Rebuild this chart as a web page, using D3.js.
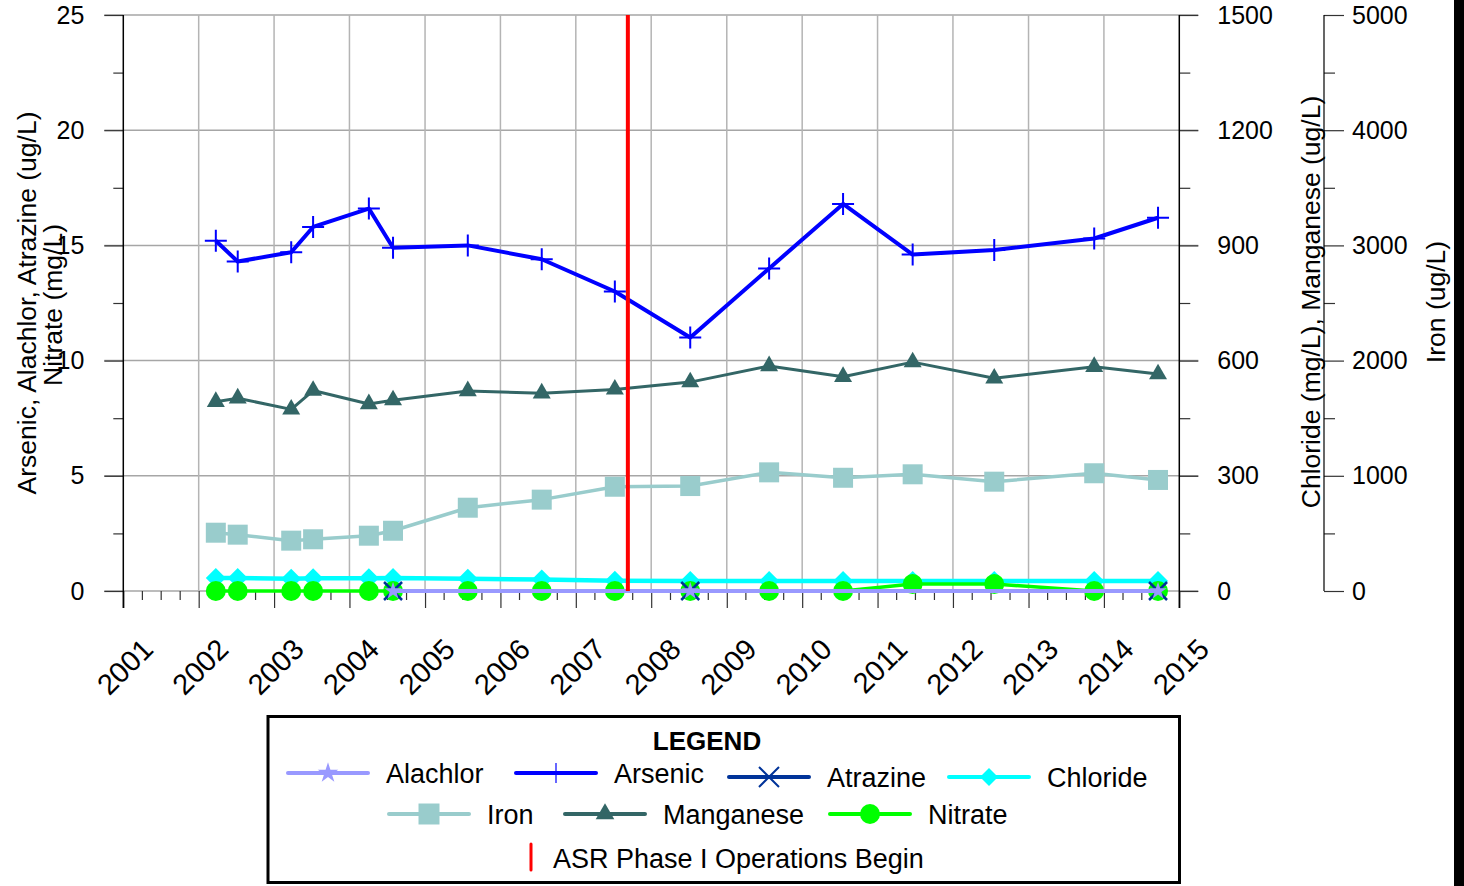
<!DOCTYPE html>
<html>
<head>
<meta charset="utf-8">
<script src="https://cdn.jsdelivr.net/npm/d3@7"></script>
<style>
  body { margin: 0; background: #fff; }
  text { font-family: "Liberation Sans", Arial, sans-serif; fill: #000; }
</style>
</head>
<body>
<svg id="chart" width="1464" height="886"></svg>
<script>
// sample dates
var sampleDates = ["2002-03-25", "2002-07-09", "2003-03-25", "2003-07-09", "2004-04-04",
                   "2004-07-30", "2005-07-27", "2006-07-20", "2007-07-09", "2008-07-08",
                   "2009-07-25", "2010-07-18", "2011-06-20", "2012-07-19", "2013-11-15",
                   "2014-09-20"];
var arsenic   = [15.2, 14.3, 14.7, 15.8, 16.6, 14.9, 15.0, 14.4, 13.0, 11.0, 14.0, 16.8, 14.6, 14.8, 15.3, 16.2];
var chloride  = [34, 34, 32, 33, 33, 34, 32, 30, 27, 26, 26, 26, 26, 26, 26, 26];
var iron      = [506, 489, 437, 449, 480, 523, 723, 793, 905, 911, 1030, 983, 1013, 949, 1022, 964];
var manganese = [493, 502, 473, 522, 487, 497, 521, 515, 525, 544, 586, 558, 596, 554, 584, 565];
var nitrate   = [0, 0, 0, 0, 0, 0, 0, 0, 0, 0, 0, 0, 0.3, 0.3, 0, 0];

var pesticideDates = ["2004-07-30", "2008-07-08", "2014-09-20"];
var alachlor = [0, 0, 0];
var atrazine = [0, 0, 0];

var asrStart = "2007-09-10";

var yearTicks  = d3.range(2001, 2016);
var leftTicks  = [0, 5, 10, 15, 20, 25];
var rightTicks = [0, 300, 600, 900, 1200, 1500];
var ironTicks  = [0, 1000, 2000, 3000, 4000, 5000];

var parse = d3.timeParse("%Y-%m-%d");
var svg = d3.select("#chart");

var x = d3.scaleTime()
    .domain([new Date(2001, 0, 1), new Date(2015, 0, 1)])
    .range([123.3, 1179.3]);
var yLeft  = d3.scaleLinear().domain([0, 25]).range([591, 15]);
var yRight = d3.scaleLinear().domain([0, 1500]).range([591, 15]);
var yIron  = d3.scaleLinear().domain([0, 5000]).range([591, 15]);

var x0 = x.range()[0], x1 = x.range()[1];
var fmt = d3.format("d");

// grid
var grid = svg.append("g");
grid.selectAll(".h").data(leftTicks).join("line")
    .attr("x1", x0 - 19).attr("x2", x1 + 19)
    .attr("y1", d => yLeft(d)).attr("y2", d => yLeft(d))
    .attr("stroke", "#a6a6a6").attr("stroke-width", 1.5);
grid.selectAll(".v").data(yearTicks.slice(1, -1)).join("line")
    .attr("x1", d => x(new Date(d, 0, 1))).attr("x2", d => x(new Date(d, 0, 1)))
    .attr("y1", 15).attr("y2", 591)
    .attr("stroke", "#b4b4b4").attr("stroke-width", 1.5);

// axes
function styleAxis(g) {
  g.select(".domain").remove();
  g.selectAll(".tick line").attr("stroke", "#333").attr("stroke-width", 1.2);
  g.selectAll("text").attr("font-size", 25).attr("fill", "#000");
}

svg.append("g").attr("transform", "translate(" + x0 + ",0)")
    .call(d3.axisLeft(yLeft).tickValues(leftTicks).tickSize(19).tickPadding(20).tickFormat(fmt))
    .call(styleAxis);
svg.append("g").attr("transform", "translate(" + x0 + ",0)")
    .call(d3.axisLeft(yLeft).tickValues(d3.range(2.5, 25, 5)).tickSize(10).tickFormat(""))
    .call(styleAxis);

svg.append("g").attr("transform", "translate(" + x1 + ",0)")
    .call(d3.axisRight(yRight).tickValues(rightTicks).tickSize(19).tickPadding(19).tickFormat(fmt))
    .call(styleAxis);
svg.append("g").attr("transform", "translate(" + x1 + ",0)")
    .call(d3.axisRight(yRight).tickValues(d3.range(150, 1500, 300)).tickSize(11).tickFormat(""))
    .call(styleAxis);

var xIron = 1324;
svg.append("g").attr("transform", "translate(" + xIron + ",0)")
    .call(d3.axisRight(yIron).tickValues(ironTicks).tickSize(20).tickPadding(8).tickFormat(fmt))
    .call(styleAxis);
svg.append("g").attr("transform", "translate(" + xIron + ",0)")
    .call(d3.axisRight(yIron).tickValues(d3.range(500, 5000, 1000)).tickSize(11).tickFormat(""))
    .call(styleAxis);

// x axis
var xAxisG = svg.append("g").attr("transform", "translate(0,591)")
    .call(d3.axisBottom(x).tickValues(yearTicks.map(d => new Date(d, 0, 1)))
      .tickSize(17).tickFormat(d3.timeFormat("%Y")))
    .call(styleAxis);
xAxisG.selectAll("text")
    .attr("y", null).attr("dy", null)
    .attr("text-anchor", "end")
    .attr("font-size", 29)
    .attr("transform", "translate(31,60) rotate(-45)");
var minorMonths = d3.timeMonth.every(3).range(new Date(2001, 0, 1), new Date(2015, 0, 2))
    .filter(d => d.getMonth() !== 0);
svg.append("g").attr("transform", "translate(0,591)")
    .call(d3.axisBottom(x).tickValues(minorMonths).tickSize(9).tickFormat(""))
    .call(styleAxis);

// axis lines
svg.append("line").attr("x1", x0).attr("x2", x0).attr("y1", 15).attr("y2", 608)
    .attr("stroke", "#000").attr("stroke-width", 1.5);
svg.append("line").attr("x1", x1).attr("x2", x1).attr("y1", 15).attr("y2", 608)
    .attr("stroke", "#000").attr("stroke-width", 1.5);
svg.append("line").attr("x1", xIron).attr("x2", xIron).attr("y1", 15).attr("y2", 591)
    .attr("stroke", "#000").attr("stroke-width", 1.2);

// axis titles
var titleSize = 26.5;
svg.append("text").attr("transform", "translate(36,303) rotate(-90)")
    .attr("text-anchor", "middle").attr("font-size", titleSize)
    .text("Arsenic, Alachlor, Atrazine (ug/L)");
svg.append("text").attr("transform", "translate(62,305) rotate(-90)")
    .attr("text-anchor", "middle").attr("font-size", titleSize)
    .text("Nitrate (mg/L)");
svg.append("text").attr("transform", "translate(1320,302) rotate(-90)")
    .attr("text-anchor", "middle").attr("font-size", titleSize)
    .text("Chloride (mg/L), Manganese (ug/L)");
svg.append("text").attr("transform", "translate(1445,302) rotate(-90)")
    .attr("text-anchor", "middle").attr("font-size", titleSize)
    .text("Iron (ug/L)");

// markers
var markers = {
  plus:     { d: "M-11,0H11M0,-11V11", fill: "none", stroke: true, sw: 2 },
  times:    { d: "M-9,-9L9,9M-9,9L9,-9", fill: "none", stroke: true, sw: 2.5 },
  diamond:  { d: "M0,-10L10,0L0,10L-10,0Z", fill: true },
  square:   { d: d3.symbol(d3.symbolSquare, 400)(), fill: true },
  triangle: { d: d3.symbol(d3.symbolTriangle, 140)(), fill: true },
  circle:   { d: d3.symbol(d3.symbolCircle, 314)(), fill: true },
  star:     { d: d3.symbol(d3.symbolStar, 95)(), fill: true }
};

function zip(dates, vals) {
  return dates.map((d, i) => ({ date: parse(d), value: vals[i] }));
}

var series = [
  { name: "Iron",      data: zip(sampleDates, iron),      y: yIron,  color: "#99cccc", width: 3.5, marker: "square" },
  { name: "Manganese", data: zip(sampleDates, manganese), y: yRight, color: "#336666", width: 3,   marker: "triangle" },
  { name: "Arsenic",   data: zip(sampleDates, arsenic),   y: yLeft,  color: "#0000ff", width: 4,   marker: "plus" },
  { name: "Chloride",  data: zip(sampleDates, chloride),  y: yRight, color: "#00ffff", width: 4.5, marker: "diamond" },
  { name: "Nitrate",   data: zip(sampleDates, nitrate),   y: yLeft,  color: "#00ff00", width: 3.5, marker: "circle" },
  { name: "Atrazine",  data: zip(pesticideDates, atrazine), y: yLeft, color: "#003399", width: 3.5, marker: "times" },
  { name: "Alachlor",  data: zip(pesticideDates, alachlor), y: yLeft, color: "#9999ff", width: 4,   marker: "star" }
];

function drawMarker(sel, m, color) {
  sel.attr("d", m.d)
     .attr("fill", m.fill === true ? color : "none")
     .attr("stroke", m.stroke ? color : "none")
     .attr("stroke-width", m.sw || 0);
}

var plot = svg.append("g");
series.forEach(function (s) {
  var line = d3.line().x(d => x(d.date)).y(d => s.y(d.value));
  plot.append("path").datum(s.data)
      .attr("d", line).attr("fill", "none")
      .attr("stroke", s.color).attr("stroke-width", s.width)
      .attr("stroke-linejoin", "round");
  plot.append("g").selectAll("path").data(s.data).join("path")
      .attr("transform", d => "translate(" + x(d.date) + "," + s.y(d.value) + ")")
      .call(drawMarker, markers[s.marker], s.color);
});

// ASR line
var asrX = x(parse(asrStart));
svg.append("line").attr("x1", asrX).attr("x2", asrX).attr("y1", 15).attr("y2", 591)
    .attr("stroke", "#ff0000").attr("stroke-width", 4);

// legend
var lg = svg.append("g");
lg.append("rect").attr("x", 268).attr("y", 716.5).attr("width", 911.5).attr("height", 166)
    .attr("fill", "#fff").attr("stroke", "#000").attr("stroke-width", 3);
lg.append("text").attr("x", 707).attr("y", 750).attr("text-anchor", "middle")
    .attr("font-size", 26).attr("font-weight", "bold").text("LEGEND");

var legendRows = [
  { y: 773, items: [["Alachlor", 288], ["Arsenic", 516]] },
  { y: 777, items: [["Atrazine", 729], ["Chloride", 949]] },
  { y: 814, items: [["Iron", 389], ["Manganese", 565], ["Nitrate", 830]] }
];
var legendMarker = {
  Arsenic: { d: "M0,-10V10", fill: "none", stroke: true, sw: 1.2 },
  Atrazine: { d: "M-10,-10L10,10M-10,10L10,-10", fill: "none", stroke: true, sw: 2 },
  Alachlor: { d: d3.symbol(d3.symbolStar, 130)(), fill: true },
  Chloride: { d: "M0,-9L9,0L0,9L-9,0Z", fill: true },
  Iron: { d: d3.symbol(d3.symbolSquare, 441)(), fill: true },
  Manganese: { d: d3.symbol(d3.symbolTriangle, 150)(), fill: true },
  Nitrate: { d: d3.symbol(d3.symbolCircle, 314)(), fill: true }
};
legendRows.forEach(function (row) {
  row.items.forEach(function (it) {
    var s = series.find(d => d.name === it[0]);
    var lx = it[1];
    lg.append("line").attr("x1", lx).attr("x2", lx + 80).attr("y1", row.y).attr("y2", row.y)
        .attr("stroke", s.color).attr("stroke-width", 4).attr("stroke-linecap", "round");
    lg.append("path").attr("transform", "translate(" + (lx + 40) + "," + row.y + ")")
        .call(drawMarker, legendMarker[it[0]], s.color);
    lg.append("text").attr("x", lx + 98).attr("y", row.y).attr("dy", "0.36em")
        .attr("font-size", 27).text(it[0]);
  });
});
lg.append("line").attr("x1", 531).attr("x2", 531).attr("y1", 844).attr("y2", 870)
    .attr("stroke", "#ff0000").attr("stroke-width", 3).attr("stroke-linecap", "round");
lg.append("text").attr("x", 553).attr("y", 858).attr("dy", "0.36em")
    .attr("font-size", 27).text("ASR Phase I Operations Begin");

// right edge bar
svg.append("rect").attr("x", 1454).attr("y", 0).attr("width", 10).attr("height", 886).attr("fill", "#000");
</script>
</body>
</html>
